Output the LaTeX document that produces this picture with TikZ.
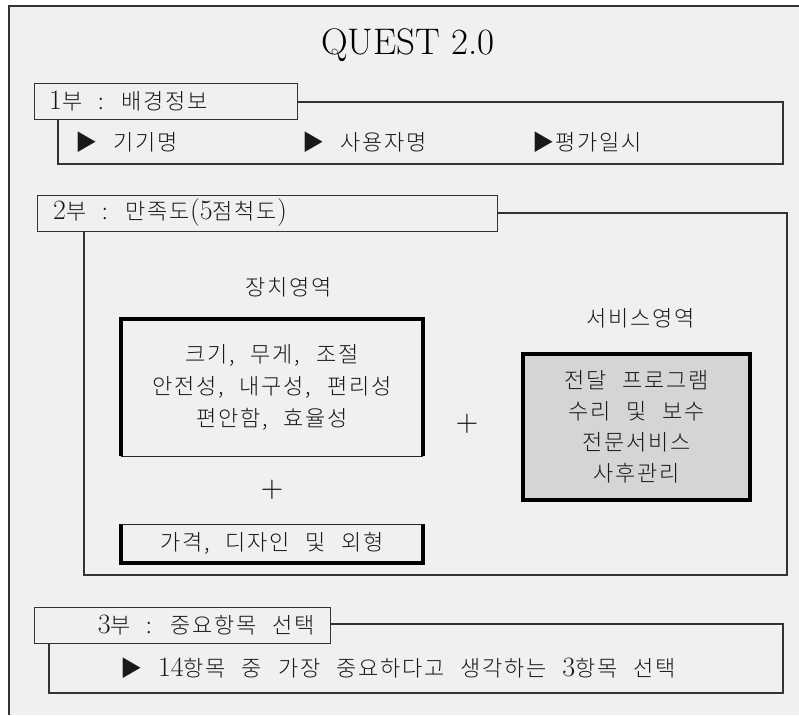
\documentclass[tikz,border=0pt]{standalone}
\usepackage{fontspec}
\newfontfamily\kr[LetterSpace=8,WordSpace=2.4,UprightFont={* Light}]{Noto Sans CJK KR}
\newcommand\lm[1]{{\fontsize{28}{32}\rmfamily #1}}
\definecolor{bg}{gray}{0.941}
\definecolor{svcgray}{gray}{0.835}
\definecolor{linegray}{gray}{0.2}
\begin{document}
\begin{tikzpicture}[x=1pt,y=-1pt,
  thinline/.style={draw=linegray,line width=1.2pt},
  thickline/.style={draw=black,line width=4pt},
  cbox/.style={thinline,inner sep=0pt},
  hdr/.style={thinline,fill=bg,inner sep=0pt,anchor=north west},
  txt/.style={font=\fontsize{22}{32}\kr,inner sep=0pt,text=black!90},
  plus/.style={font=\fontsize{31}{31}\rmfamily,inner sep=0pt}]
\useasboundingbox (0,0) rectangle (799,715);
\fill[white] (0,0) rectangle (799,715);
\fill[bg] (9,6) rectangle (799,715);
\draw[thinline] (9,715) -- (9,6) -- (799,6);
% title
\node[font=\fontsize{37}{37}\rmfamily,inner sep=0pt] (title) at (408,45) {QUEST 2.0};
% part 1
\node[cbox,minimum width=725pt,minimum height=62pt] (b1) at (420.5,133) {};
\node[hdr,minimum width=263pt,minimum height=36pt] (h1) at (34,83) {};
\node[txt,anchor=west] (t1) at (49,101) {\lm{1}부 : 배경정보};
\node[txt,anchor=west] (i1) at (75,142) {▶ 기기명};
\node[txt,anchor=west] (i2) at (302,142) {▶ 사용자명};
\node[txt,anchor=west] (i3) at (532,142) {▶평가일시};
% part 2
\node[cbox,minimum width=703pt,minimum height=362pt] (b2) at (435.5,394) {};
\node[hdr,minimum width=460pt,minimum height=36pt] (h2) at (37,195) {};
\node[txt,anchor=west] (t2) at (53,213) {\lm{2}부 : 만족도\lm{(5}점척도\lm{)}};
\node[txt] (dev-l) at (289,287) {장치영역};
\node[txt,align=center,minimum width=302pt,minimum height=137pt] (dev) at (272,387.5)
  {크기, 무게, 조절\\안전성, 내구성, 편리성\\편안함, 효율성};
\draw[thickline] (dev.south west) -- (dev.north west) -- (dev.north east) -- (dev.south east);
\draw[thinline,draw=black!85] (dev.south west) -- (dev.south east);
\node[plus] (plus1) at (272,490) {+};
\node[txt,minimum width=302pt,minimum height=38pt] (price) at (272,543.5) {가격, 디자인 및 외형};
\draw[thickline] (price.north west) -- (price.south west) -- (price.south east) -- (price.north east);
\draw[thinline,draw=black!85] (price.north west) -- (price.north east);
\node[txt] (svc-l) at (641,318) {서비스영역};
\node[txt,font=\fontsize{22}{31}\kr,align=center,fill=svcgray,thickline,minimum width=227pt,minimum height=146pt] (svc) at (636.5,427)
  {전달 프로그램\\수리 및 보수\\전문서비스\\사후관리};
\node[plus] (plus2) at (467,424) {+};
% part 3
\node[cbox,minimum width=734pt,minimum height=69pt] (b3) at (416,658.5) {};
\node[hdr,minimum width=296pt,minimum height=36pt] (h3) at (34,607) {};
\node[txt,anchor=east] (t3) at (315,625) {\lm{3}부 : 중요항목 선택};
\node[txt,anchor=west] (i4) at (120,668) {▶ \lm{14}항목 중 가장 중요하다고 생각하는 \lm{3}항목 선택};
\end{tikzpicture}
\end{document}
